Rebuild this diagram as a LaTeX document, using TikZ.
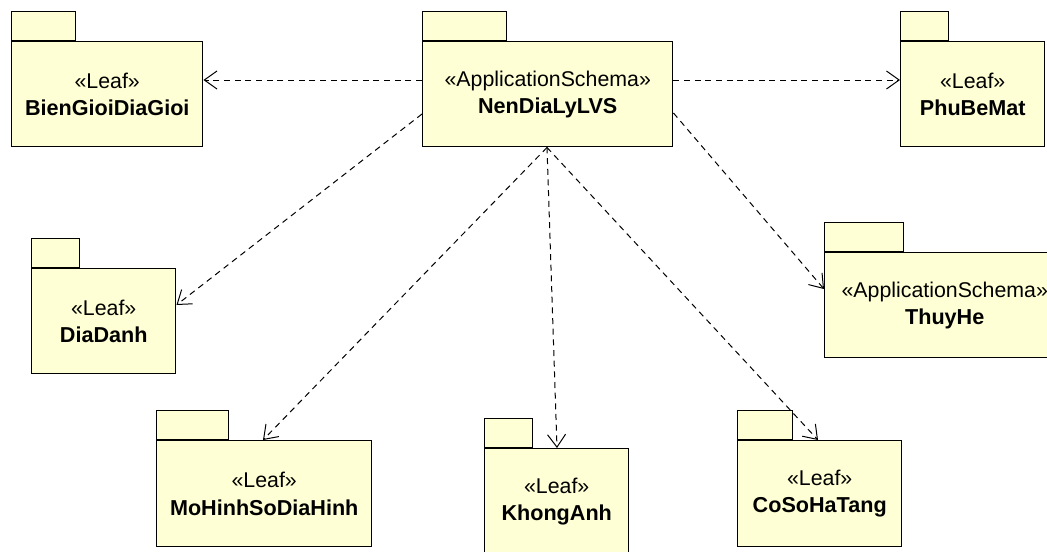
\documentclass[tikz,border=0pt]{standalone}
\usepackage{fontspec}
\setmainfont{Liberation Sans}
\usetikzlibrary{arrows.meta,calc}
\definecolor{pkgfill}{RGB}{255,255,213}
\newcommand\umlpkg[8]{%
  \node[pkgtab, minimum width={#6*0.75pt}, minimum height={29*0.75pt}] (#1tab) at (#2,#3) {};
  \node[pkgbody, minimum width={#4*0.75pt}, minimum height={#5*0.75pt}] (#1) at (#2,#3)
    {{\fontsize{16}{20}\selectfont «#7»}\\{\bfseries #8}};
}
\begin{document}
\begin{tikzpicture}[x=0.75pt,y=-0.75pt,
  pkgbody/.style={draw=black, fill=pkgfill, line width=1.1pt, rectangle, anchor=north west,
    inner sep=0pt, align=center, font=\fontsize{16.2}{20.5}\selectfont},
  pkgtab/.style={draw=black, fill=pkgfill, line width=1.1pt, rectangle, anchor=south west,
    inner sep=0pt},
  dep/.style={draw=black, line width=0.75pt, dash pattern=on 4.5pt off 3.5pt,
    -{Straight Barb[length=9.5pt,width=13.5pt]}},
]
\clip (0,0) rectangle (1047,551);
\fill[white] (0,0) rectangle (1047,551);
\umlpkg{bg}{11}{41}{191}{105}{64}{Leaf}{BienGioiDiaGioi}
\umlpkg{nen}{422}{41}{250}{105}{84}{ApplicationSchema}{NenDiaLyLVS}
\umlpkg{pbm}{900}{41}{144}{105}{48}{Leaf}{PhuBeMat}
\umlpkg{dd}{31}{268}{144}{105}{48}{Leaf}{DiaDanh}
\umlpkg{th}{824}{252}{240}{105}{79}{ApplicationSchema}{ThuyHe}
\umlpkg{mh}{156}{440}{215}{106}{72}{Leaf}{MoHinhSoDiaHinh}
\umlpkg{ka}{484}{448}{144}{105}{48}{Leaf}{KhongAnh}
\umlpkg{cs}{737}{440}{164}{106}{55}{Leaf}{CoSoHaTang}
\draw[dep] ($(nen.north west)+(0,39)$) -- ($(bg.north east)+(0,39)$);
\draw[dep] ($(nen.north east)+(0,39)$) -- ($(pbm.north west)+(0,39)$);
\draw[dep] ($(nen.north west)+(0,73)$) -- ($(dd.north east)+(0,37)$);
\draw[dep] ($(nen.south west)+(125,0)$) -- ($(mh.north west)+(107,0)$);
\draw[dep] ($(nen.south west)+(125,0)$) -- ($(ka.north west)+(73,0)$);
\draw[dep] ($(nen.south west)+(125,0)$) -- ($(cs.north west)+(81,0)$);
\draw[dep] ($(nen.north east)+(0,72)$) -- ($(th.north west)+(0,37)$);
\end{tikzpicture}
\end{document}
